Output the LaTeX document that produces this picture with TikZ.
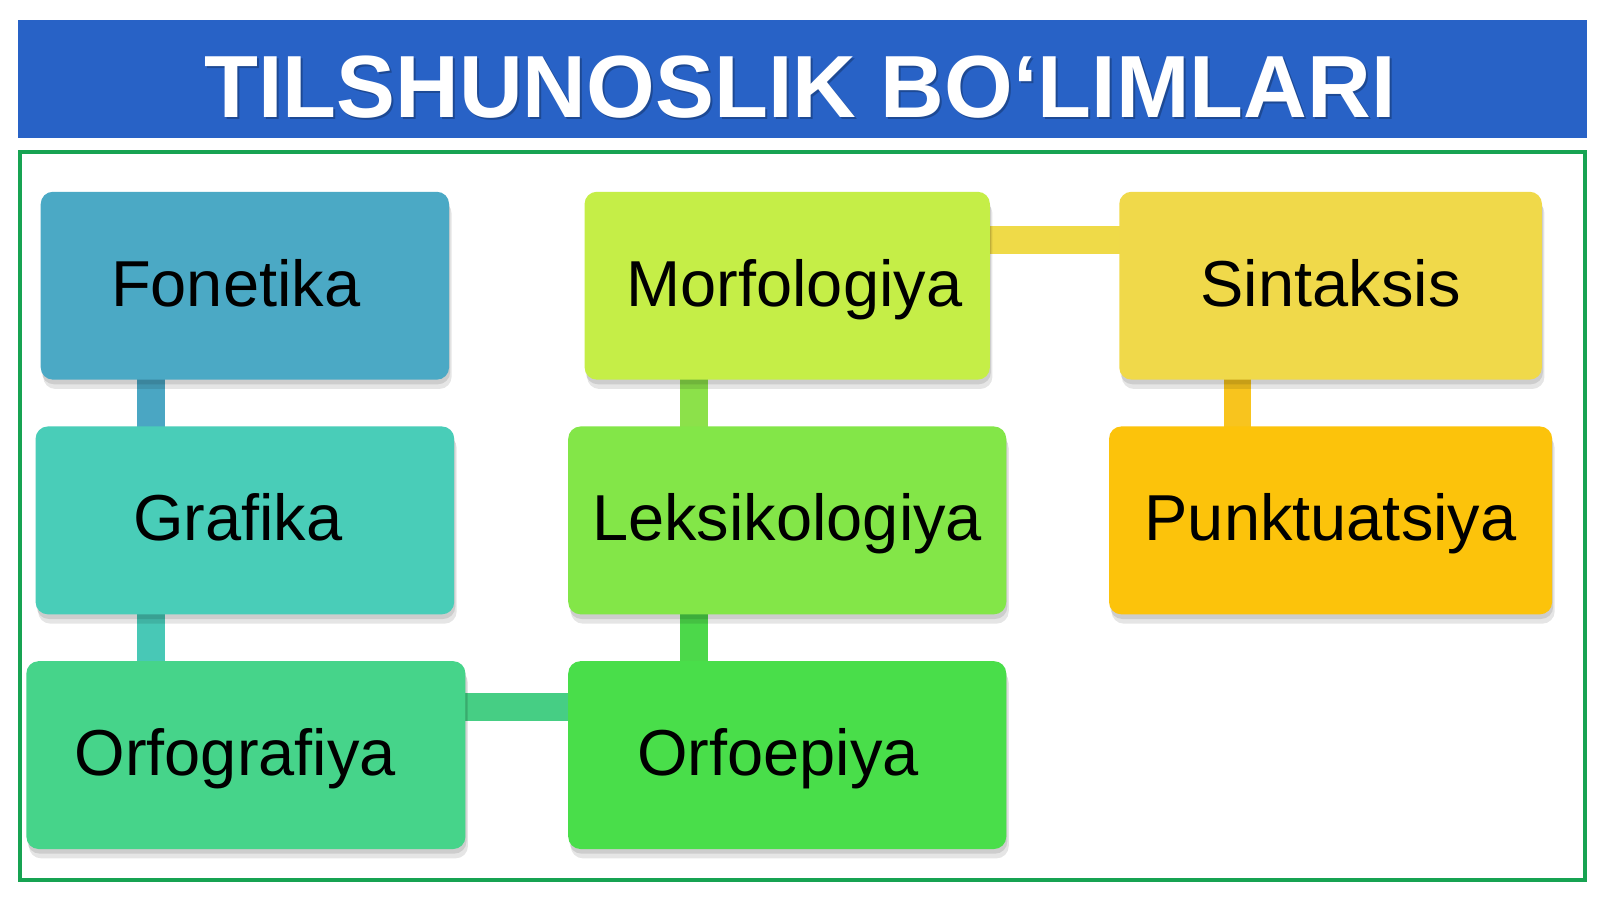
\documentclass[tikz,border=0pt]{standalone}
\usepackage{fontspec}
\setmainfont{Liberation Sans}
\usetikzlibrary{shadows}
\pgfdeclarelayer{back}
\pgfdeclarelayer{bg}
\pgfsetlayers{back,bg,main}
\definecolor{bandblue}{HTML}{2862C6}
\definecolor{framegreen}{HTML}{17A352}
\definecolor{cfon}{HTML}{4BA9C5}
\definecolor{cgra}{HTML}{49CDB8}
\definecolor{corf}{HTML}{46D48A}
\definecolor{cmor}{HTML}{C5EE47}
\definecolor{clek}{HTML}{83E648}
\definecolor{coep}{HTML}{49DE4A}
\definecolor{csin}{HTML}{F0D94A}
\definecolor{cpun}{HTML}{FCC30B}
\definecolor{bfon}{HTML}{4AA6C3}
\definecolor{bgra}{HTML}{48C8B6}
\definecolor{borf}{HTML}{46CE84}
\definecolor{boep}{HTML}{4CD84A}
\definecolor{blek}{HTML}{8CE14A}
\definecolor{bmor}{HTML}{EFDA48}
\definecolor{bsin}{HTML}{F8C41E}
\tikzset{
  itembox/.style={rectangle, rounded corners=0.12cm, inner sep=0pt, outer sep=0pt,
    text height=0.40cm, text depth=0cm, font=\fontsize{18.1}{21}\selectfont, text=black,
    general shadow={fill=black, opacity=0.10, shadow xshift=0.7pt, shadow yshift=-2.6pt},
    general shadow={fill=black, opacity=0.10, shadow xshift=0.3pt, shadow yshift=-1.3pt}},
  bar/.style={line width=0.27cm, draw=#1},
}
\begin{document}
\begin{tikzpicture}[x=0.01cm, y=-0.01cm]
\useasboundingbox (0,0) rectangle (1568,882);
\begin{pgfonlayer}{back}
\fill[white] (0,0) rectangle (1568,882);
\end{pgfonlayer}
% title band
\node[fill=bandblue, minimum width=15.37cm, minimum height=1.15cm, inner sep=0pt, outer sep=0pt] (band) at (786.5,77.5) {};
\node[anchor=base, text=black, opacity=0.25, font=\fontsize{24.6}{28}\bfseries] (titleshadow) at (786,117) {TILSHUNOSLIK BO‘LIMLARI};
\node[anchor=base, text=white, font=\fontsize{24.6}{28}\bfseries] (title) at (784,115) {TILSHUNOSLIK BO‘LIMLARI};
% frame
\node[draw=framegreen, line width=0.045cm, minimum width=15.33cm, minimum height=7.13cm, inner sep=0pt, outer sep=0pt] (frame) at (786.5,505.5) {};
% boxes
\node[itembox, fill=cfon, minimum width=4.00cm, minimum height=1.84cm] (fon) at (240,280) {\kern-0.18cm Fonetika};
\node[itembox, fill=cgra, minimum width=4.10cm, minimum height=1.84cm] (gra) at (240,510) {\kern-0.14cm Grafika};
\node[itembox, fill=corf, minimum width=4.30cm, minimum height=1.84cm] (orf) at (241,740) {\kern-0.21cm Orfografiya};
\node[itembox, fill=cmor, minimum width=3.97cm, minimum height=1.84cm] (mor) at (771.5,280) {\kern0.14cm Morfologiya};
\node[itembox, fill=clek, minimum width=4.29cm, minimum height=1.84cm] (lek) at (771.5,510) {Leksikologiya};
\node[itembox, fill=coep, minimum width=4.29cm, minimum height=1.84cm] (oep) at (771.5,740) {\kern-0.18cm Orfoepiya};
\node[itembox, fill=csin, minimum width=4.14cm, minimum height=1.84cm] (sin) at (1304,280) {Sintaksis};
\node[itembox, fill=cpun, minimum width=4.34cm, minimum height=1.84cm] (pun) at (1304,510) {Punktuatsiya};
% connectors
\begin{pgfonlayer}{bg}
\draw[bar=bfon] ([xshift=1.08cm, yshift=0.05cm]fon.south west) -- ([xshift=1.08cm]fon.south west |- gra.north) -- ++(0,5);
\draw[bar=bgra] ([xshift=1.13cm, yshift=0.05cm]gra.south west) -- ([xshift=1.13cm]gra.south west |- orf.north) -- ++(0,5);
\draw[bar=borf] ([xshift=-0.05cm, yshift=-0.45cm]orf.north east) -- ([yshift=-0.45cm]oep.north west) -- ++(5,0);
\draw[bar=boep] ([xshift=1.23cm, yshift=-0.05cm]oep.north west) -- ([xshift=1.23cm]oep.north west |- lek.south) -- ++(0,-5);
\draw[bar=blek] ([xshift=1.23cm, yshift=-0.05cm]lek.north west) -- ([xshift=1.23cm]lek.north west |- mor.south) -- ++(0,-5);
\draw[bar=bmor] ([xshift=-0.05cm, yshift=-0.47cm]mor.north east) -- ([yshift=-0.47cm]sin.north west) -- ++(5,0);
\draw[bar=bsin] ([xshift=1.16cm, yshift=0.05cm]sin.south west) -- ([xshift=1.16cm]sin.south west |- pun.north) -- ++(0,5);
\end{pgfonlayer}
\end{tikzpicture}
\end{document}
